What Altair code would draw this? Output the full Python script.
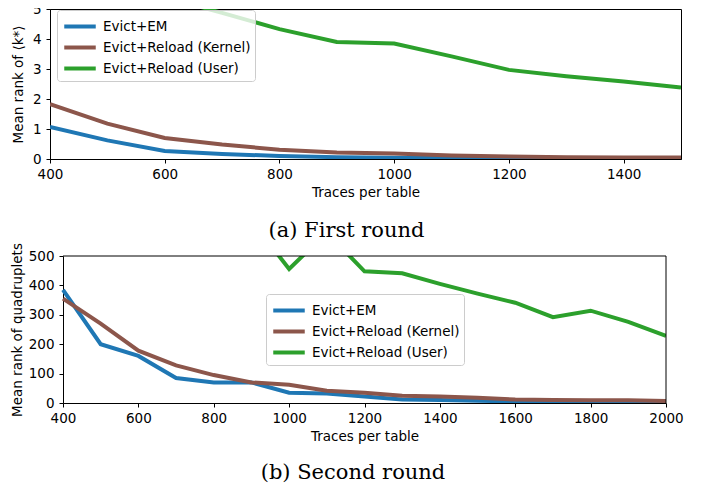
import altair as alt
import pandas as pd

series = ["Evict+EM", "Evict+Reload (Kernel)", "Evict+Reload (User)"]
colors = ["#1f77b4", "#8c564b", "#2ca02c"]

# (a) First round
x1 = [400, 500, 600, 700, 800, 900, 1000, 1100, 1200, 1300, 1400, 1500]
em1 = [1.07, 0.62, 0.27, 0.17, 0.10, 0.06, 0.04, 0.03, 0.02, 0.01, 0.01, 0.01]
kern1 = [1.83, 1.18, 0.70, 0.48, 0.31, 0.22, 0.18, 0.12, 0.08, 0.06, 0.05, 0.05]
user1 = [7.2, 6.2, 5.4, 4.87, 4.33, 3.90, 3.85, 3.42, 2.97, 2.76, 2.58, 2.38]

# (b) Second round
x2 = [400, 500, 600, 700, 800, 900, 1000, 1100, 1200, 1300, 1400, 1500, 1600, 1700, 1800, 1900, 2000]
em2 = [385, 200, 160, 85, 70, 70, 35, 32, 22, 12, 10, 8, 5, 3, 2, 2, 2]
kern2 = [355, 270, 178, 128, 95, 70, 62, 42, 35, 25, 22, 18, 12, 10, 9, 9, 7]
user2 = [1000, 900, 820, 760, 700, 620, 456, 580, 448, 441, 405, 372, 341, 292, 314, 276, 228]

x1_ticks = [400, 600, 800, 1000, 1200, 1400]
y1_ticks = [0, 1, 2, 3, 4, 5]
x2_ticks = [400, 600, 800, 1000, 1200, 1400, 1600, 1800, 2000]
y2_ticks = [0, 100, 200, 300, 400, 500]


def long_df(xs, cols):
    rows = []
    for name, vals in zip(series, cols):
        for xv, yv in zip(xs, vals):
            rows.append({"x": xv, "y": yv, "series": name})
    return pd.DataFrame(rows)


df1 = long_df(x1, [em1, kern1, user1])
df2 = long_df(x2, [em2, kern2, user2])

FONT = "DejaVu Sans"
FS = 13.5


def lines(df, xscale, xticks, ydom, yticks, ytitle, lx, ly, ytpad, yoffset=0):
    return alt.Chart(df).mark_line(strokeWidth=4, clip=True).encode(
        x=alt.X("x:Q", scale=xscale,
                axis=alt.Axis(values=xticks, title="Traces per table", format="d")),
        y=alt.Y("y:Q",
                scale=alt.Scale(domain=ydom, nice=False),
                axis=alt.Axis(values=yticks, title=ytitle, titlePadding=ytpad, format="d",
                              offset=yoffset, labelPadding=5)),
        color=alt.Color("series:N",
                        scale=alt.Scale(domain=series, range=colors),
                        sort=series,
                        legend=alt.Legend(title=None, orient="none", legendX=lx, legendY=ly,
                                          symbolType="M-1.5,0H1.5", symbolStrokeWidth=4, symbolSize=441,
                                          symbolOffset=6.5,
                                          labelFont=FONT, labelFontSize=FS, labelColor="black",
                                          labelOffset=10.5, rowPadding=0, padding=4,
                                          fillColor="rgba(255,255,255,0.8)", strokeColor="#cccccc",
                                          cornerRadius=3)),
    )


def caption(text, dx, off):
    return alt.TitleParams(text, orient="bottom", anchor="middle", font="DejaVu Serif",
                           fontSize=21, fontWeight="normal", color="black", dx=dx, offset=off)


# top panel: plot area 631 x 150
top = lines(df1, alt.Scale(domain=[400, 1500], nice=False, zero=False), x1_ticks,
            [0, 5], y1_ticks, "Mean rank of ⟨k*⟩", 7, 1, 7).properties(
    width=631, height=150, title=caption("(a) First round", -19, 21))

# bottom panel: frame inset 13px from the left of a 616-wide group
W2, H2, INSET = 616, 147, 13
frame = pd.DataFrame({"k": [0]})
bottom_lines = lines(df2, alt.Scale(domain=[400, 2000], nice=False, zero=False, range=[INSET, W2]),
                     x2_ticks, [0, 500], y2_ticks, "Mean rank of quadruplets", 216, 38, 4, -INSET)
top_edge = alt.Chart(frame).mark_rule(color="black", strokeWidth=1).encode(
    x=alt.value(INSET), x2=alt.value(W2), y=alt.value(0))
right_edge = alt.Chart(frame).mark_rule(color="black", strokeWidth=1).encode(
    x=alt.value(W2), y=alt.value(0), y2=alt.value(H2))
bottom = alt.layer(bottom_lines, top_edge, right_edge).properties(
    width=W2, height=H2, title=caption("(b) Second round", -5, 19),
    view=alt.ViewBackground(stroke="transparent"))

chart = alt.vconcat(top, bottom, spacing=0).resolve_scale(
    color="independent").resolve_legend(color="independent").properties(
    padding={"left": 1, "top": -7, "right": 0, "bottom": 0}
).configure_axis(
    labelFont=FONT, labelFontSize=FS, labelColor="black", labelFlush=False,
    titleFont=FONT, titleFontSize=FS, titleFontWeight="normal", titleColor="black",
    tickColor="black", domainColor="black", tickSize=4, labelPadding=4, grid=False,
).configure_axisX(titlePadding=5).configure_view(stroke="black", strokeWidth=1)

chart.save("out.html", embed_options={"renderer": "svg", "actions": False})
